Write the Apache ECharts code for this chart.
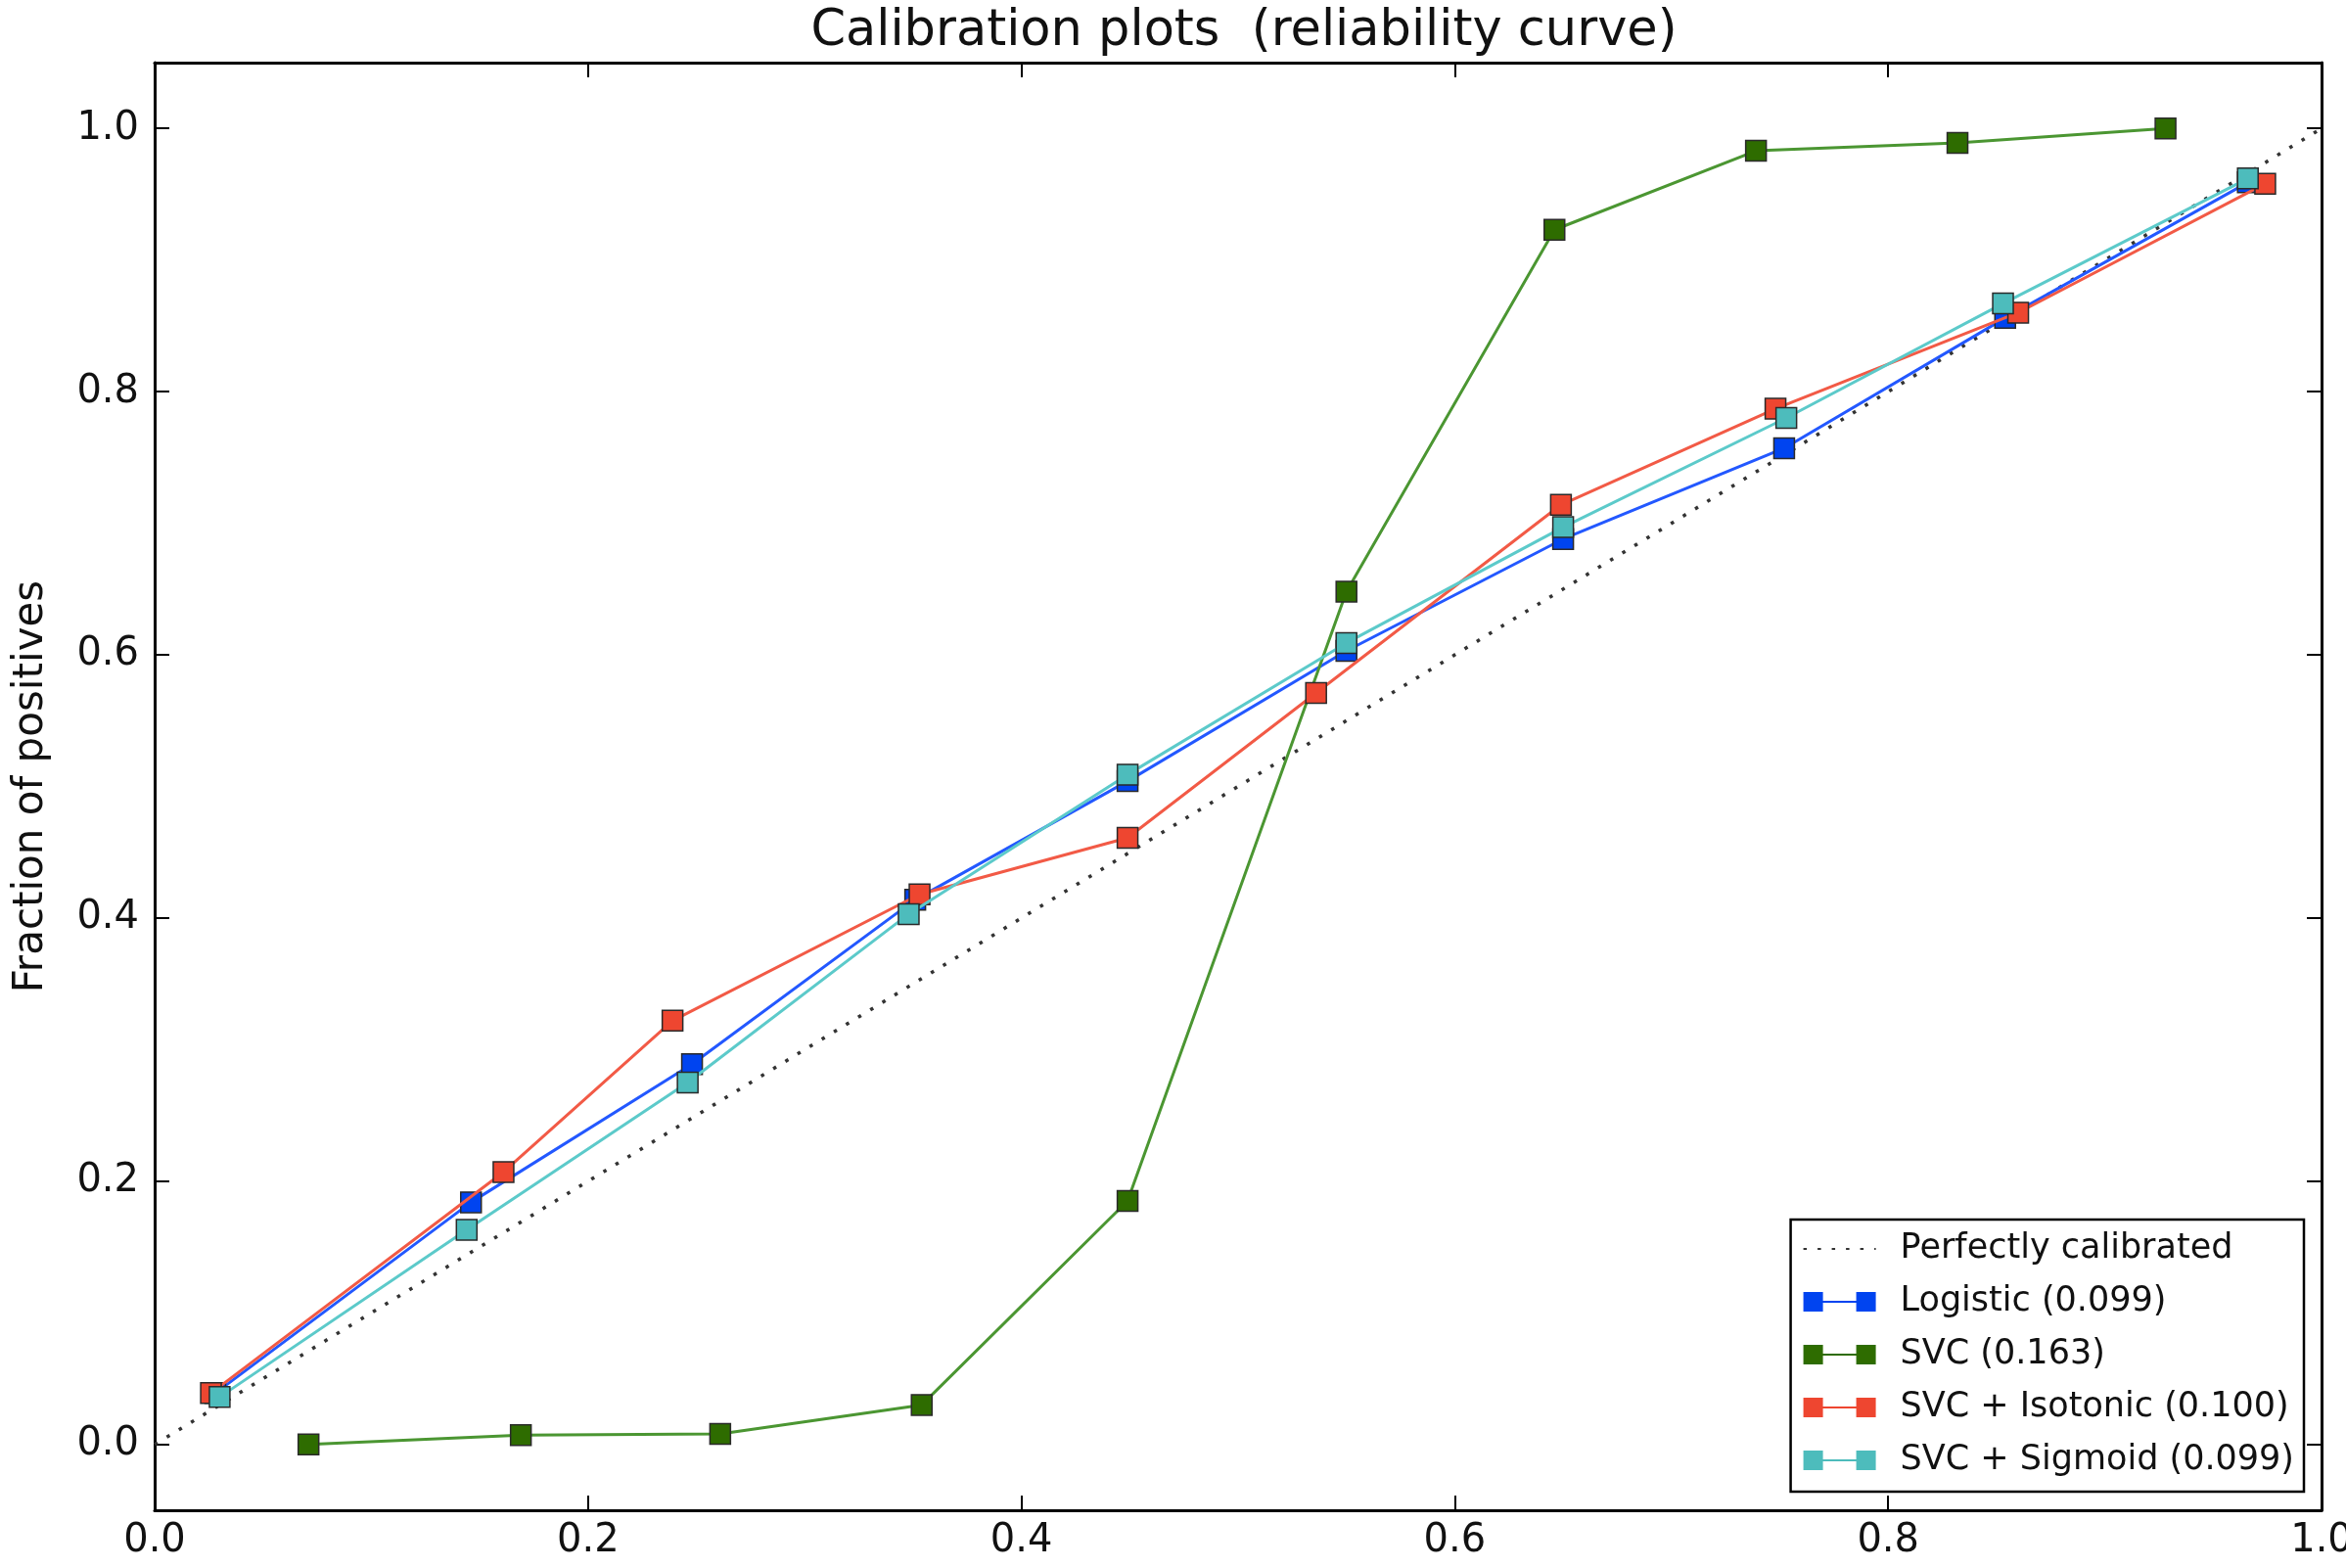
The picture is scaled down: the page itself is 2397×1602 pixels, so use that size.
<!DOCTYPE html>
<html>
<head>
<meta charset="utf-8">
<title>Calibration plots</title>
<script src="https://cdn.jsdelivr.net/npm/echarts@6/dist/echarts.min.js"></script>
<style>
	html, body { margin: 0; padding: 0; background: #fff; }
	#main { width: 2397px; height: 1602px; }
</style>
</head>
<body>
<div id="main"></div>
<script>
// mean predicted value (x) / fraction of positives (y)
var perfectX = [0, 1];
var perfectY = [0, 1];

var logisticX = [0.028, 0.146, 0.248, 0.351, 0.449, 0.550, 0.650, 0.752, 0.854, 0.966];
var logisticY = [0.039, 0.184, 0.289, 0.414, 0.504, 0.603, 0.688, 0.757, 0.856, 0.959];

var svcX = [0.071, 0.169, 0.261, 0.354, 0.449, 0.550, 0.646, 0.739, 0.832, 0.928];
var svcY = [0.000, 0.007, 0.008, 0.030, 0.185, 0.648, 0.923, 0.983, 0.989, 1.000];

var isoX = [0.026, 0.161, 0.239, 0.353, 0.449, 0.536, 0.649, 0.748, 0.860, 0.974];
var isoY = [0.039, 0.207, 0.322, 0.418, 0.461, 0.571, 0.714, 0.787, 0.860, 0.958];

var sigX = [0.030, 0.144, 0.246, 0.348, 0.449, 0.550, 0.650, 0.753, 0.853, 0.966];
var sigY = [0.036, 0.163, 0.275, 0.403, 0.509, 0.609, 0.697, 0.780, 0.867, 0.962];

var seriesNames = ['Perfectly calibrated', 'Logistic (0.099)', 'SVC (0.163)',
	'SVC + Isotonic (0.100)', 'SVC + Sigmoid (0.099)'];

var xTicks = [0, 0.2, 0.4, 0.6, 0.8, 1.0];
var yTicks = [0, 0.2, 0.4, 0.6, 0.8, 1.0];

function pairs(xs, ys) {
	return xs.map(function (x, i) { return [x, ys[i]]; });
}

var FONT = 'DejaVu Sans';
var legendIcon = 'path://M0,0h20v20h-20z M20,9h34v2h-34z M54,0h20v20h-20z';

function curve(name, xs, ys, fill, line, z) {
	return {
		name: name,
		type: 'line',
		data: pairs(xs, ys),
		z: z,
		symbol: 'rect',
		symbolSize: 21,
		showAllSymbol: true,
		itemStyle: {
			color: fill,
			borderColor: '#2a2a2a',
			borderWidth: 1.5
		},
		lineStyle: {
			color: line,
			width: 3
		},
		emphasis: { disabled: true },
		animation: false
	};
}

var tickStyle = { color: '#000', width: 2 };
var axisLineStyle = { color: '#000', width: 3 };

var dom = document.getElementById('main');
var myChart = echarts.init(dom);

var option = {
	backgroundColor: '#fff',
	animation: false,
	textStyle: { fontFamily: FONT },
	title: {
		text: 'Calibration plots  (reliability curve)',
		left: 1266,
		textAlign: 'center',
		top: 2,
		textStyle: {
			fontFamily: FONT,
			fontSize: 51,
			fontWeight: 'normal',
			color: '#111'
		}
	},
	grid: {
		left: 158,
		right: 25,
		top: 64,
		bottom: 59,
		containLabel: false,
		outerBoundsMode: 'none'
	},
	legend: {
		orient: 'vertical',
		right: 43,
		bottom: 78,
		backgroundColor: '#fff',
		borderColor: '#000',
		borderWidth: 2.5,
		borderRadius: 0,
		padding: [10, 10, 12, 12],
		itemWidth: 74,
		itemHeight: 20,
		itemGap: 14,
		selectedMode: false,
		itemStyle: { borderWidth: 0 },
		textStyle: {
			fontFamily: FONT,
			fontSize: 35,
			lineHeight: 40,
			color: '#111',
			padding: [0, 0, 0, 20]
		},
		data: [
			{ name: seriesNames[0], itemStyle: { color: 'rgba(0,0,0,0)', borderWidth: 0 } },
			{ name: seriesNames[1], icon: legendIcon },
			{ name: seriesNames[2], icon: legendIcon },
			{ name: seriesNames[3], icon: legendIcon },
			{ name: seriesNames[4], icon: legendIcon }
		]
	},
	xAxis: [{
		type: 'value',
		position: 'bottom',
		min: 0,
		max: 1,
		interval: 0.2,
		axisLine: { show: true, onZero: false, lineStyle: axisLineStyle },
		axisTick: { show: true, inside: true, length: 15, lineStyle: tickStyle, customValues: xTicks },
		axisLabel: {
			show: true,
			margin: 12,
			fontFamily: FONT,
			fontSize: 40,
			color: '#111',
			customValues: xTicks,
			formatter: function (v) { return v.toFixed(1); }
		},
		splitLine: { show: false }
	}, {
		type: 'value',
		position: 'top',
		min: 0,
		max: 1,
		interval: 0.2,
		axisLine: { show: true, onZero: false, lineStyle: axisLineStyle },
		axisTick: { show: true, inside: true, length: 15, lineStyle: tickStyle, customValues: xTicks },
		axisLabel: { show: false },
		splitLine: { show: false }
	}],
	yAxis: [{
		type: 'value',
		position: 'left',
		min: -0.05,
		max: 1.05,
		name: 'Fraction of positives',
		nameLocation: 'middle',
		nameRotate: 90,
		nameGap: 105,
		nameTextStyle: {
			fontFamily: FONT,
			fontSize: 42,
			color: '#111'
		},
		axisLine: { show: true, onZero: false, lineStyle: axisLineStyle },
		axisTick: { show: true, inside: true, length: 15, lineStyle: tickStyle, customValues: yTicks },
		axisLabel: {
			show: true,
			margin: 16,
			fontFamily: FONT,
			fontSize: 40,
			color: '#111',
			customValues: yTicks,
			formatter: function (v) { return v.toFixed(1); }
		},
		splitLine: { show: false }
	}, {
		type: 'value',
		position: 'right',
		min: -0.05,
		max: 1.05,
		axisLine: { show: true, onZero: false, lineStyle: axisLineStyle },
		axisTick: { show: true, inside: true, length: 15, lineStyle: tickStyle, customValues: yTicks },
		axisLabel: { show: false },
		splitLine: { show: false }
	}],
	series: [
		{
			name: seriesNames[0],
			type: 'line',
			data: pairs(perfectX, perfectY),
			z: 1,
			symbol: 'none',
			itemStyle: { color: '#333' },
			lineStyle: { color: '#333', width: 3.5, type: [3.5, 11] },
			emphasis: { disabled: true },
			animation: false
		},
		curve(seriesNames[1], logisticX, logisticY, '#0044f0', '#2358ff', 2),
		curve(seriesNames[2], svcX, svcY, '#2e6c00', '#4b9632', 3),
		curve(seriesNames[3], isoX, isoY, '#ee4630', '#f25a46', 4),
		curve(seriesNames[4], sigX, sigY, '#4dbcbc', '#5ccaca', 5)
	]
};

myChart.setOption(option, true);
</script>
</body>
</html>
